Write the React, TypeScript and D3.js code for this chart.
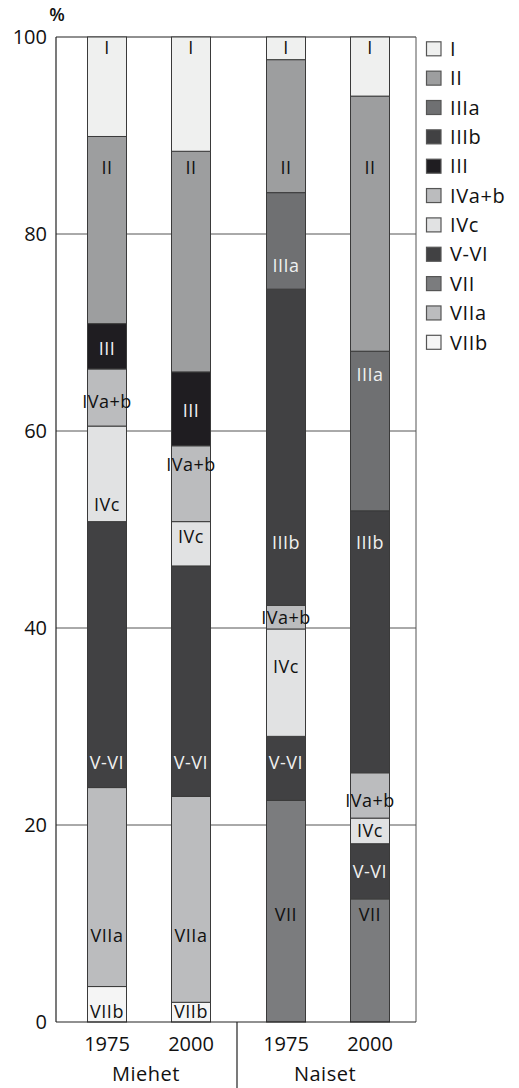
import React from "react";
import * as d3 from "d3";

const classes = ["I", "II", "IIIa", "IIIb", "III", "IVa+b", "IVc", "V-VI", "VII", "VIIa", "VIIb"];
const classColors = ["#eff0ef", "#9d9e9f", "#6f7072", "#414143", "#1f1d21", "#bbbcbe", "#e1e2e3", "#414143", "#7b7c7e", "#bbbcbe", "#f5f5f5"];
const whiteLabel = ["III", "IIIa", "IIIb", "V-VI"];

const groups = ["Miehet", "Naiset"];
const years = ["1975", "2000"];

// values in legend order (I ... VIIb), per bar
const miehet1975 = [10.1, 19.0, 0, 0, 4.6, 5.8, 9.7, 27.0, 0, 20.2, 3.6];
const miehet2000 = [11.6, 22.4, 0, 0, 7.5, 7.7, 4.5, 23.4, 0, 20.9, 2.0];
const naiset1975 = [2.3, 13.5, 9.8, 32.1, 0, 2.4, 10.9, 6.5, 22.5, 0, 0];
const naiset2000 = [6.0, 25.9, 16.2, 26.6, 0, 4.6, 2.6, 5.6, 12.5, 0, 0];

// label anchor values (%) in legend order, per bar
const labelAtM1975 = [98.9, 86.8, 0, 0, 68.4, 63.0, 52.5, 26.3, 0, 8.8, 1.05];
const labelAtM2000 = [98.9, 86.8, 0, 0, 62.1, 56.6, 49.3, 26.3, 0, 8.8, 1.05];
const labelAtN1975 = [98.9, 86.8, 76.8, 48.7, 0, 41.1, 36.1, 26.3, 10.9, 0, 0];
const labelAtN2000 = [98.9, 86.8, 65.7, 48.7, 0, 22.5, 19.4, 15.3, 10.9, 0, 0];

const yTicks = [0, 20, 40, 60, 80, 100];

const bars = [
  { group: "Miehet", year: "1975", values: miehet1975, labels: labelAtM1975 },
  { group: "Miehet", year: "2000", values: miehet2000, labels: labelAtM2000 },
  { group: "Naiset", year: "1975", values: naiset1975, labels: labelAtN1975 },
  { group: "Naiset", year: "2000", values: naiset2000, labels: labelAtN2000 },
];

const FONT = "'Open Sans', 'Noto Sans', sans-serif";

export default function App() {
  const W = 519, H = 1088;
  const left = 56, right = 416, top = 37, bottom = 1022;
  const y = d3.scaleLinear().domain([0, 100]).range([bottom, top]);
  const gx = d3.scalePoint<string>().domain(groups).range([149, 328]);
  const yx = d3.scalePoint<string>().domain(years).range([-42, 42]);
  const barW = 39;

  const stackOrder = classes.map((_, i) => i).reverse();
  const rows = bars.map((b) => {
    const obj: Record<string, number> = {};
    classes.forEach((c, i) => (obj[c] = b.values[i]));
    return obj;
  });
  const stack = d3.stack<Record<string, number>>().keys(stackOrder.map((i) => classes[i]));
  const series = stack(rows);

  const divX = (gx("Miehet")! + gx("Naiset")!) / 2 - 1.5;

  return (
    <svg width={W} height={H} style={{ position: "absolute", left: 0, top: 0 }} fontFamily={FONT}>
      <rect x={0} y={0} width={W} height={H} fill="#fff" />
      {/* gridlines */}
      {yTicks.filter((t) => t > 0 && t < 100).map((t) => (
        <line key={t} x1={left} x2={right} y1={y(t)} y2={y(t)} stroke="#555" strokeWidth={1} />
      ))}
      <line x1={left} x2={right} y1={y(100)} y2={y(100)} stroke="#222" strokeWidth={1.2} />
      <line x1={right} x2={right} y1={top} y2={bottom} stroke="#555" strokeWidth={1} />
      {/* bars */}
      {series.map((s) => {
        const ci = classes.indexOf(s.key);
        return s.map((d, bi) => {
          if (d[1] - d[0] <= 0) return null;
          const b = bars[bi];
          const cx = gx(b.group)! + yx(b.year)!;
          return (
            <rect
              key={s.key + bi}
              x={cx - barW / 2}
              y={y(d[1])}
              width={barW}
              height={y(d[0]) - y(d[1])}
              fill={classColors[ci]}
              stroke="#3a3a3a"
              strokeWidth={1}
            />
          );
        });
      })}
      {/* segment labels */}
      {bars.map((b, bi) =>
        classes.map((c, ci) => {
          if (b.values[ci] <= 0) return null;
          const cx = gx(b.group)! + yx(b.year)!;
          return (
            <text
              key={c + bi}
              x={cx}
              y={y(b.labels[ci])}
              dy="0.36em"
              textAnchor="middle"
              fontSize={18}
              letterSpacing={0.5}
              fill={whiteLabel.includes(c) ? "#f0f0f0" : "#111"}
            >
              {c}
            </text>
          );
        })
      )}
      {/* axes */}
      <line x1={left} x2={left} y1={top} y2={bottom} stroke="#222" strokeWidth={1.2} />
      <line x1={left} x2={right} y1={bottom} y2={bottom} stroke="#222" strokeWidth={1.2} />
      {yTicks.map((t) => (
        <text key={t} x={47} y={y(t)} dy="0.36em" textAnchor="end" fontSize={20} fill="#111">
          {t}
        </text>
      ))}
      <text x={57} y={21} textAnchor="middle" fontSize={18} fontWeight={600} fill="#111">%</text>
      {/* x labels */}
      {bars.map((b, bi) => (
        <text key={"yr" + bi} x={gx(b.group)! + yx(b.year)!} y={1051} textAnchor="middle" fontSize={20} fill="#111">
          {b.year}
        </text>
      ))}
      {groups.map((g) => (
        <text key={g} x={gx(g)! - 3} y={1081} textAnchor="middle" fontSize={20} letterSpacing={0.5} fill="#111">
          {g}
        </text>
      ))}
      <line x1={divX} x2={divX} y1={bottom} y2={H} stroke="#222" strokeWidth={1.2} />
      {/* legend */}
      {classes.map((c, i) => {
        const cy = 48.8 + i * 29.35;
        return (
          <g key={"lg" + c}>
            <rect x={426.5} y={cy - 7} width={14.5} height={14} fill={classColors[i]} stroke="#555" strokeWidth={1.2} />
            <text x={450} y={cy} dy="0.36em" fontSize={20} letterSpacing={0.6} fill="#111">{c}</text>
          </g>
        );
      })}
    </svg>
  );
}
